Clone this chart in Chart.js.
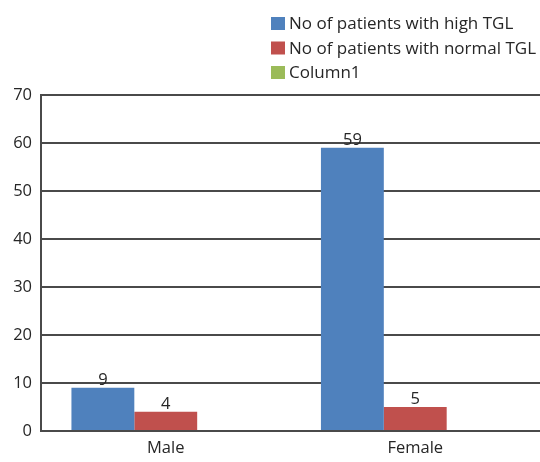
<!DOCTYPE html>
<html>
<head>
<meta charset="utf-8">
<script src="https://cdn.jsdelivr.net/npm/chart.js@4.4.1/dist/chart.umd.min.js"></script>
<style>
  html, body { margin: 0; padding: 0; background: #fff; }
  #wrap { width: 540px; height: 462px; position: relative; }
</style>
</head>
<body>
<div id="wrap"><canvas id="c"></canvas></div>
<script>
const categories = ['Male', 'Female'];
const highTGL = [9, 59];
const normalTGL = [4, 5];
const column1 = [null, null];
const seriesNames = ['No of patients with high TGL', 'No of patients with normal TGL', 'Column1'];
const yTicks = [0, 10, 20, 30, 40, 50, 60, 70];

const FONT = '"Open Sans", sans-serif';
const TEXT = '#262626';

// Legend stacked in the top-right corner
const sideLegend = {
  id: 'sideLegend',
  afterDraw(chart) {
    const ctx = chart.ctx;
    ctx.save();
    ctx.font = '17px ' + FONT;
    ctx.textBaseline = 'middle';
    ctx.textAlign = 'left';
    chart.data.datasets.forEach((ds, i) => {
      const y = 23.5 + i * 24.5;
      ctx.fillStyle = ds.backgroundColor;
      ctx.fillRect(271, y - 6.5, 14, 13);
      ctx.fillStyle = TEXT;
      ctx.fillText(ds.label, 289, y + 1);
    });
    ctx.restore();
  }
};

// Value labels above each bar
const valueLabels = {
  id: 'valueLabels',
  afterDatasetsDraw(chart) {
    const ctx = chart.ctx;
    ctx.save();
    ctx.font = '16.5px ' + FONT;
    ctx.fillStyle = TEXT;
    ctx.textAlign = 'center';
    ctx.textBaseline = 'bottom';
    chart.data.datasets.forEach((ds, di) => {
      const meta = chart.getDatasetMeta(di);
      meta.data.forEach((bar, i) => {
        const v = ds.data[i];
        if (v === null || v === undefined) return;
        ctx.fillText(String(v), bar.x, bar.y + 1);
      });
    });
    ctx.restore();
  }
};

new Chart(document.getElementById('c'), {
  type: 'bar',
  data: {
    labels: categories,
    datasets: [
      { label: seriesNames[0], data: highTGL, backgroundColor: '#4F81BD' },
      { label: seriesNames[1], data: normalTGL, backgroundColor: '#C0504D' },
      { label: seriesNames[2], data: column1, backgroundColor: '#9BBB59' }
    ]
  },
  options: {
    responsive: true,
    maintainAspectRatio: false,
    animation: false,
    layout: { padding: { top: 95, right: 0, left: 0, bottom: 0 } },
    datasets: { bar: { categoryPercentage: 0.756, barPercentage: 1.0 } },
    plugins: { legend: { display: false }, tooltip: { enabled: false } },
    scales: {
      x: {
        grid: { display: false, drawTicks: false },
        border: { display: false },
        ticks: { color: TEXT, font: { family: FONT, size: 16.5 }, padding: 7 },
        afterFit(s) { s.height = 31; }
      },
      y: {
        min: 0, max: 70,
        afterBuildTicks(s) { s.ticks = yTicks.map(v => ({ value: v })); },
        grid: { color: '#4a4a4a', lineWidth: 2, drawTicks: false },
        border: { display: true, color: '#4a4a4a', width: 2 },
        ticks: { color: TEXT, font: { family: FONT, size: 16.5 }, padding: 9 },
        afterFit(s) { s.width = 41; }
      }
    }
  },
  plugins: [sideLegend, valueLabels]
});
</script>
</body>
</html>
